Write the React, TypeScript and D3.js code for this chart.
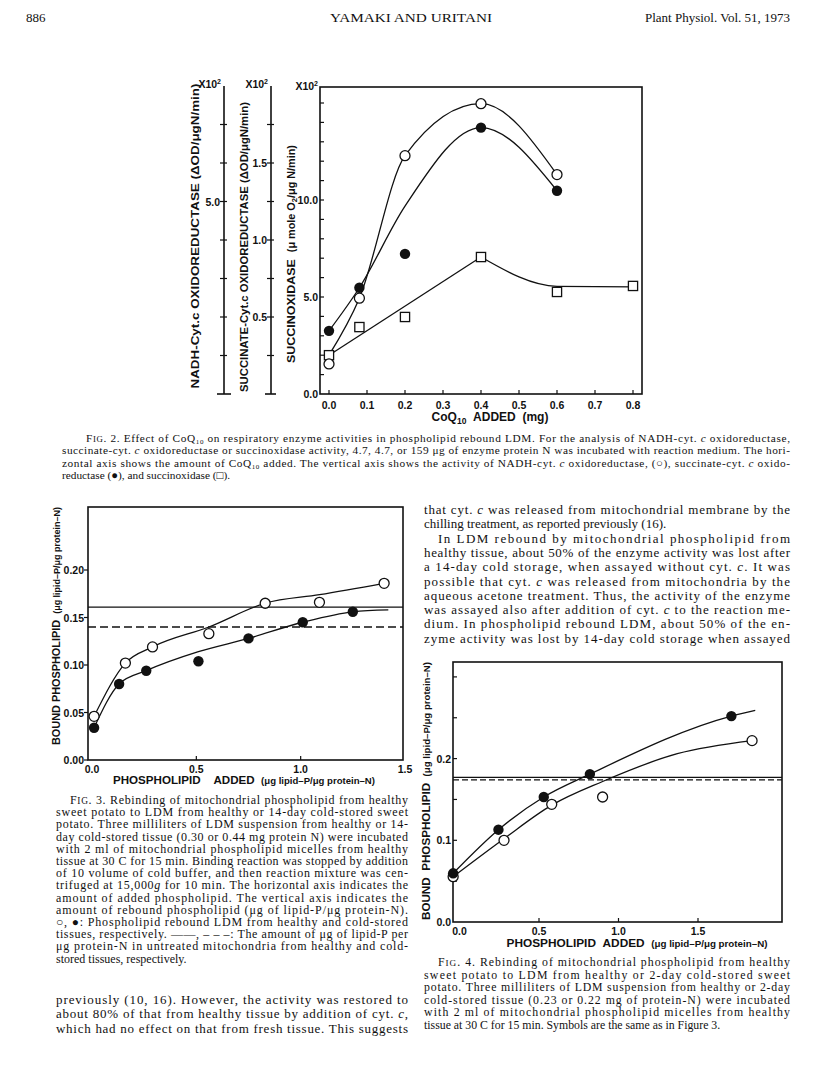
import React from "react";
import * as d3 from "d3";

// ---------------- Fig. 2 data (x = CoQ10 added, mg) ----------------
const fig2XTicks = [0, 0.1, 0.2, 0.3, 0.4, 0.5, 0.6, 0.7, 0.8];
const nadhX = [0, 0.08, 0.2, 0.4, 0.6]; // open circles, NADH-cyt c oxidoreductase (x10^2)
const nadhY = [0.78, 2.49, 6.19, 7.54, 5.7];
const succCytX = [0, 0.08, 0.2, 0.4, 0.6]; // filled circles, succinate-cyt c oxidoreductase (x10^2)
const succCytY = [0.41, 0.69, 0.91, 1.73, 1.32];
const succOxX = [0, 0.08, 0.2, 0.4, 0.6, 0.8]; // squares, succinoxidase (x10^2)
const succOxY = [2.0, 3.45, 3.97, 7.06, 5.26, 5.57];
// hand-drawn fitted curves
const nadhFitX = [0, 0.08, 0.2, 0.4, 0.6];
const nadhFitY = [1.01, 2.49, 6.19, 7.54, 5.7];
const succCytFitX = [0, 0.08, 0.2, 0.4, 0.6];
const succCytFitY = [0.41, 0.69, 1.22, 1.73, 1.32];
const succOxLineX = [0, 0.4]; // straight part of the succinoxidase line
const succOxLineY = [2.0, 7.06];
const succOxFitX = [0.4, 0.6, 0.8]; // smooth part
const succOxFitY = [7.06, 5.55, 5.52];
const nadhTicks = [1, 2, 3, 4, 5, 6, 7];
const nadhLabels = [5];
const succCytTicks = [0.25, 0.5, 0.75, 1.0, 1.25, 1.5, 1.75];
const succCytLabels = [0.5, 1.0, 1.5];
const succOxTicks = [1, 2, 3, 4, 5, 6, 7, 8, 9, 10, 11, 12, 13, 14, 15];
const succOxLabels = [0, 5, 10];

// ---------------- Fig. 3 data ----------------
const f3HealthyX = [0.01, 0.16, 0.29, 0.56, 0.83, 1.09, 1.4];
const f3HealthyY = [0.046, 0.102, 0.119, 0.133, 0.165, 0.166, 0.186];
const f3ColdX = [0.01, 0.13, 0.26, 0.51, 0.75, 1.01, 1.25];
const f3ColdY = [0.034, 0.08, 0.094, 0.104, 0.128, 0.145, 0.156];
const f3HealthyFitX = [0.01, 0.16, 0.29, 0.56, 0.83, 1.09, 1.4];
const f3HealthyFitY = [0.046, 0.102, 0.119, 0.14, 0.165, 0.174, 0.186];
const f3ColdFitX = [0.01, 0.13, 0.26, 0.51, 0.75, 1.01, 1.25, 1.42];
const f3ColdFitY = [0.034, 0.08, 0.094, 0.114, 0.128, 0.145, 0.156, 0.158];
const f3HealthyRef = 0.161;
const f3ColdRef = 0.14;
const f3YTicks = [0, 0.05, 0.1, 0.15, 0.2];
const f3XTicks = [0, 0.5, 1.0, 1.5];

// ---------------- Fig. 4 data ----------------
const f4HealthyX = [-0.04, 0.28, 0.58, 0.9, 1.84];
const f4HealthyY = [0.0555, 0.1, 0.144, 0.153, 0.222];
const f4ColdX = [-0.04, 0.245, 0.53, 0.82, 1.71];
const f4ColdY = [0.0596, 0.113, 0.153, 0.181, 0.252];
const f4HealthyFitX = [-0.04, 0.28, 0.58, 0.9, 1.37, 1.84];
const f4HealthyFitY = [0.0555, 0.102, 0.143, 0.172, 0.206, 0.222];
const f4ColdFitX = [-0.04, 0.245, 0.53, 0.82, 1.71, 1.86];
const f4ColdFitY = [0.0596, 0.113, 0.153, 0.181, 0.252, 0.259];
const f4HealthyRef = 0.177;
const f4ColdRef = 0.174;
const f4YTicks = [0.05, 0.1, 0.15, 0.2, 0.25, 0.3];
const f4YLabels = [0, 0.1, 0.2];
const f4XTicks = [0, 0.5, 1.0, 1.5];

// ---------------- Page text ----------------
const headerLeft = "886";
const headerCenter = "YAMAKI AND URITANI";
const headerRight = "Plant Physiol. Vol. 51, 1973";

const fig2Caption = [
  "F{IG}. 2. Effect of CoQ~10~ on respiratory enzyme activities in phospholipid rebound LDM. For the analysis of NADH-cyt. _c_ oxidoreductase,",
  "succinate-cyt. _c_ oxidoreductase or succinoxidase activity, 4.7, 4.7, or 159 μg of enzyme protein N was incubated with reaction medium. The hori-",
  "zontal axis shows the amount of CoQ~10~ added. The vertical axis shows the activity of NADH-cyt. _c_ oxidoreductase, (○), succinate-cyt. _c_ oxido-",
  "reductase (●), and succinoxidase (□).",
];
const fig3Caption = [
  "F{IG}. 3. Rebinding of mitochondrial phospholipid from healthy",
  "sweet potato to LDM from healthy or 14-day cold-stored sweet",
  "potato. Three milliliters of LDM suspension from healthy or 14-",
  "day cold-stored tissue (0.30 or 0.44 mg protein N) were incubated",
  "with 2 ml of mitochondrial phospholipid micelles from healthy",
  "tissue at 30 C for 15 min. Binding reaction was stopped by addition",
  "of 10 volume of cold buffer, and then reaction mixture was cen-",
  "trifuged at 15,000_g_ for 10 min. The horizontal axis indicates the",
  "amount of added phospholipid. The vertical axis indicates the",
  "amount of rebound phospholipid (μg of lipid-P/μg protein-N).",
  "○, ●: Phospholipid rebound LDM from healthy and cold-stored",
  "tissues, respectively. ——, – – –: The amount of μg of lipid-P per",
  "μg protein-N in untreated mitochondria from healthy and cold-",
  "stored tissues, respectively.",
];
const fig4Caption = [
  "F{IG}. 4. Rebinding of mitochondrial phospholipid from healthy",
  "sweet potato to LDM from healthy or 2-day cold-stored sweet",
  "potato. Three milliliters of LDM suspension from healthy or 2-day",
  "cold-stored tissue (0.23 or 0.22 mg of protein-N) were incubated",
  "with 2 ml of mitochondrial phospholipid micelles from healthy",
  "tissue at 30 C for 15 min. Symbols are the same as in Figure 3.",
];
const leftBody = [
  "previously (10, 16). However, the activity was restored to",
  "about 80% of that from healthy tissue by addition of cyt. _c_,",
  "which had no effect on that from fresh tissue. This suggests",
];
const rightBody = [
  "that cyt. _c_ was released from mitochondrial membrane by the",
  "chilling treatment, as reported previously (16).",
  "In LDM rebound by mitochondrial phospholipid from",
  "healthy tissue, about 50% of the enzyme activity was lost after",
  "a 14-day cold storage, when assayed without cyt. _c_. It was",
  "possible that cyt. _c_ was released from mitochondria by the",
  "aqueous acetone treatment. Thus, the activity of the enzyme",
  "was assayed also after addition of cyt. _c_ to the reaction me-",
  "dium. In phospholipid rebound LDM, about 50% of the en-",
  "zyme activity was lost by 14-day cold storage when assayed",
];

// ---------------- helpers ----------------
const SERIF = "'Liberation Serif', 'Times New Roman', serif";
const SANS = "'Liberation Sans', Arial, sans-serif";
const INK = "#111";

type Seg = { t: string; kind: string };
function parse(s: string): Seg[] {
  const out: Seg[] = [];
  const re = /(\{[^}]*\}|_[^_]*_|~[^~]*~|\^[^^]*\^)/g;
  let last = 0;
  let m: RegExpExecArray | null;
  while ((m = re.exec(s))) {
    if (m.index > last) out.push({ t: s.slice(last, m.index), kind: "n" });
    const tok = m[0];
    const c = tok[0];
    out.push({ t: tok.slice(1, -1), kind: c === "{" ? "sc" : c === "_" ? "i" : c === "~" ? "sub" : "sup" });
    last = m.index + tok.length;
  }
  if (last < s.length) out.push({ t: s.slice(last), kind: "n" });
  return out;
}
function Rich({ s, fs }: { s: string; fs: number }) {
  const segs = parse(s);
  let shift = 0;
  return (
    <>
      {segs.map((g, i) => {
        let target = 0;
        if (g.kind === "sub") target = fs * 0.18;
        else if (g.kind === "sup") target = -fs * 0.4;
        const dy = target - shift;
        shift = target;
        return (
          <tspan
            key={i}
            dy={dy !== 0 ? dy : undefined}
            fontStyle={g.kind === "i" ? "italic" : undefined}
            fontSize={g.kind === "sc" ? fs * 0.78 : g.kind === "sub" || g.kind === "sup" ? fs * 0.62 : undefined}
          >
            {g.t}
          </tspan>
        );
      })}
    </>
  );
}

function Para({
  lines, x, y, w, lead, fs, indent = [], noJustify = [], ind = 14,
}: {
  lines: string[]; x: number; y: number; w: number; lead: number; fs: number;
  indent?: number[]; noJustify?: number[]; ind?: number;
}) {
  return (
    <g fontFamily={SERIF} fontSize={fs} fill={INK}>
      {lines.map((l, i) => {
        const dx = indent.includes(i) ? ind : 0;
        const just = !noJustify.includes(i);
        return (
          <text key={i} x={x + dx} y={y + i * lead} textLength={just ? w - dx : undefined} lengthAdjust="spacing">
            <Rich s={l} fs={fs} />
          </text>
        );
      })}
    </g>
  );
}

function Markers({ xs, ys, sx, sy, kind }: { xs: number[]; ys: number[]; sx: any; sy: any; kind: string }) {
  return (
    <g>
      {xs.map((v, i) => {
        const cx = sx(v);
        const cy = sy(ys[i]);
        if (kind === "square")
          return <rect key={i} x={cx - 4.6} y={cy - 4.6} width={9.2} height={9.2} fill="#fff" stroke={INK} strokeWidth={1.3} />;
        if (kind === "filled") return <circle key={i} cx={cx} cy={cy} r={5.2} fill={INK} />;
        return <circle key={i} cx={cx} cy={cy} r={5} fill="#fff" stroke={INK} strokeWidth={1.3} />;
      })}
    </g>
  );
}

function Curve({ xs, ys, sx, sy, linear = false }: { xs: number[]; ys: number[]; sx: any; sy: any; linear?: boolean }) {
  const line = d3
    .line<number>()
    .x((d) => sx(xs[d]))
    .y((d) => sy(ys[d]))
    .curve(linear ? d3.curveLinear : d3.curveMonotoneX);
  return <path d={line(d3.range(xs.length)) || ""} fill="none" stroke={INK} strokeWidth={1.3} />;
}

const fmt1 = d3.format(".1f");
const fmt2 = d3.format(".2f");

export default function App() {
  // ---- Fig 2 scales ----
  const x2 = d3.scaleLinear().domain([0, 0.8]).range([329, 633]);
  const box2 = { l: 320, r: 642, t: 87, b: 394 };
  const yOx = d3.scaleLinear().domain([0, 10]).range([394, 200]);
  const yCyt = d3.scaleLinear().domain([0, 2]).range([394, 86]);
  const yNadh = d3.scaleLinear().domain([0, 8]).range([394, 86]);
  const axN = 224;
  const axC = 271;

  // ---- Fig 3 scales ----
  const x3 = d3.scaleLinear().domain([0, 1.5]).range([92, 405]);
  const y3 = d3.scaleLinear().domain([0, 0.2]).range([760, 570]);
  const box3 = { l: 88, r: 403, t: 507, b: 760 };

  // ---- Fig 4 scales ----
  const x4 = d3.scaleLinear().domain([0, 1.5]).range([459.5, 698]);
  const y4 = d3.scaleLinear().domain([0, 0.2]).range([922, 758.6]);
  const box4 = { l: 453, r: 782, t: 662, b: 922 };

  const tickFs = 10.5;

  return (
    <svg
      width={816}
      height={1089}
      viewBox="0 0 816 1089"
      style={{ position: "absolute", left: 0, top: 0, background: "#fff" }}
    >
      <rect x={0} y={0} width={816} height={1089} fill="#fff" />

      {/* Header */}
      <g fontFamily={SERIF} fontSize={13} fill={INK}>
        <text x={26} y={22}>{headerLeft}</text>
        <text x={411} y={22} textAnchor="middle" textLength={162} lengthAdjust="spacingAndGlyphs">{headerCenter}</text>
        <text x={790} y={22} textAnchor="end">{headerRight}</text>
      </g>

      {/* ================= Fig. 2 ================= */}
      <g stroke={INK} fill="none">
        <rect x={box2.l} y={box2.t} width={box2.r - box2.l} height={box2.b - box2.t} strokeWidth={1.6} />
        {fig2XTicks.map((v) => (
          <line key={v} x1={x2(v)} x2={x2(v)} y1={box2.b} y2={box2.b - 4} strokeWidth={1.2} />
        ))}
        {succOxTicks.map((v) => (
          <line key={v} x1={box2.l} x2={box2.l + 4} y1={yOx(v)} y2={yOx(v)} strokeWidth={1.2} />
        ))}
        {/* NADH free axis */}
        <line x1={axN} x2={axN} y1={yNadh(8)} y2={yNadh(0)} strokeWidth={1.6} />
        <line x1={axN - 7} x2={axN + 7} y1={yNadh(0)} y2={yNadh(0)} strokeWidth={1.6} />
        {nadhTicks.map((v) => (
          <line key={v} x1={axN - 4} x2={axN + 3} y1={yNadh(v)} y2={yNadh(v)} strokeWidth={1.2} />
        ))}
        {/* Succinate-cyt c free axis */}
        <line x1={axC} x2={axC} y1={yCyt(2)} y2={yCyt(0)} strokeWidth={1.6} />
        <line x1={axC - 6} x2={axC + 5} y1={yCyt(0)} y2={yCyt(0)} strokeWidth={1.6} />
        {succCytTicks.map((v) => (
          <line key={v} x1={axC - 4} x2={axC + 3} y1={yCyt(v)} y2={yCyt(v)} strokeWidth={1.2} />
        ))}
      </g>
      <g fontFamily={SANS} fontWeight="bold" fontSize={tickFs} fill={INK}>
        {fig2XTicks.map((v) => (
          <text key={v} x={x2(v)} y={409} textAnchor="middle">{fmt1(v)}</text>
        ))}
        {succOxLabels.map((v) => (
          <text key={v} x={box2.l - 2} y={yOx(v) + 4} textAnchor="end">{fmt1(v)}</text>
        ))}
        {nadhLabels.map((v) => (
          <text key={v} x={axN - 4} y={yNadh(v) + 4} textAnchor="end">{fmt1(v)}</text>
        ))}
        {succCytLabels.map((v) => (
          <text key={v} x={axC - 4} y={yCyt(v) + 4} textAnchor="end">{fmt1(v)}</text>
        ))}
        <text x={axN - 3} y={88} textAnchor="end">X10<tspan dy={-4} fontSize={7}>2</tspan></text>
        <text x={axC - 3} y={88} textAnchor="end">X10<tspan dy={-4} fontSize={7}>2</tspan></text>
        <text x={box2.l - 2} y={90} textAnchor="end">X10<tspan dy={-4} fontSize={7}>2</tspan></text>
        <text x={490} y={421} textAnchor="middle" fontSize={12}>
          CoQ<tspan dy={3} fontSize={8.5}>10</tspan><tspan dy={-3}>{"\u00a0\u00a0ADDED\u00a0\u00a0(mg)"}</tspan>
        </text>
        <text transform={`translate(199,236) rotate(-90)`} textAnchor="middle" fontSize={11.5} textLength={305} lengthAdjust="spacingAndGlyphs">
          NADH-Cyt.c OXIDOREDUCTASE (ΔOD/μgN/min)
        </text>
        <text transform={`translate(248,247) rotate(-90)`} textAnchor="middle" fontSize={11.5} textLength={290} lengthAdjust="spacingAndGlyphs">
          SUCCINATE-Cyt.c OXIDOREDUCTASE (ΔOD/μgN/min)
        </text>
        <text transform={`translate(295,254) rotate(-90)`} textAnchor="middle" fontSize={11.5} textLength={218} lengthAdjust="spacingAndGlyphs">
          SUCCINOXIDASE{"\u00a0\u00a0"}<tspan fontSize={10}>(μ mole O</tspan><tspan fontSize={7} dy={2}>2</tspan><tspan fontSize={10} dy={-2}>/μg N/min)</tspan>
        </text>
      </g>
      <Curve xs={nadhFitX} ys={nadhFitY} sx={x2} sy={yNadh} />
      <Curve xs={succCytFitX} ys={succCytFitY} sx={x2} sy={yCyt} />
      <Curve xs={succOxLineX} ys={succOxLineY} sx={x2} sy={yOx} linear />
      <Curve xs={succOxFitX} ys={succOxFitY} sx={x2} sy={yOx} />
      <Markers xs={succOxX} ys={succOxY} sx={x2} sy={yOx} kind="square" />
      <Markers xs={nadhX} ys={nadhY} sx={x2} sy={yNadh} kind="open" />
      <Markers xs={succCytX} ys={succCytY} sx={x2} sy={yCyt} kind="filled" />

      <Para lines={fig2Caption} x={62} y={442} w={728} lead={12.4} fs={11.3} indent={[0]} noJustify={[3]} ind={24} />

      {/* ================= Fig. 3 ================= */}
      <g stroke={INK} fill="none">
        <rect x={box3.l} y={box3.t} width={box3.r - box3.l} height={box3.b - box3.t} strokeWidth={1.6} />
        {f3YTicks.map((v) => (
          <line key={v} x1={box3.l - 4} x2={box3.l} y1={y3(v)} y2={y3(v)} strokeWidth={1.2} />
        ))}
        {f3XTicks.filter((v) => v > 0 && v < 1.5).map((v) => (
          <line key={v} x1={x3(v)} x2={x3(v)} y1={box3.b} y2={box3.b - 4} strokeWidth={1.2} />
        ))}
        <line x1={box3.l} x2={box3.r} y1={y3(f3HealthyRef)} y2={y3(f3HealthyRef)} strokeWidth={1.3} />
        <line x1={box3.l} x2={box3.r} y1={y3(f3ColdRef)} y2={y3(f3ColdRef)} strokeWidth={1.3} strokeDasharray="8 4" />
      </g>
      <g fontFamily={SANS} fontWeight="bold" fontSize={tickFs} fill={INK}>
        {f3YTicks.map((v) => (
          <text key={v} x={box3.l - 4} y={y3(v) + 4} textAnchor="end">{fmt2(v)}</text>
        ))}
        {f3XTicks.map((v) => (
          <text key={v} x={x3(v)} y={773} textAnchor="middle">{fmt1(v)}</text>
        ))}
        <text x={244} y={784} textAnchor="middle" fontSize={11.5} textLength={262} lengthAdjust="spacingAndGlyphs">
          PHOSPHOLIPID{"\u00a0\u00a0\u00a0\u00a0"}ADDED{"\u00a0\u00a0"}<tspan fontSize={9.5}>(μg lipid–P/μg protein–N)</tspan>
        </text>
        <text transform={`translate(60,626) rotate(-90)`} textAnchor="middle" fontSize={11.5} textLength={238} lengthAdjust="spacingAndGlyphs">
          BOUND PHOSPHOLIPID{"\u00a0\u00a0"}<tspan fontSize={9.5}>(μg lipid–P/μg protein–N)</tspan>
        </text>
      </g>
      <Curve xs={f3HealthyFitX} ys={f3HealthyFitY} sx={x3} sy={y3} />
      <Curve xs={f3ColdFitX} ys={f3ColdFitY} sx={x3} sy={y3} />
      <Markers xs={f3HealthyX} ys={f3HealthyY} sx={x3} sy={y3} kind="open" />
      <Markers xs={f3ColdX} ys={f3ColdY} sx={x3} sy={y3} kind="filled" />

      <Para lines={fig3Caption} x={56} y={804} w={352} lead={12.2} fs={12} indent={[0]} noJustify={[13]} ind={14} />
      <Para lines={leftBody} x={56} y={1004} w={352} lead={14.4} fs={13} />

      {/* ================= Right column text ================= */}
      <Para lines={rightBody} x={424} y={514} w={366} lead={14.3} fs={13} indent={[2]} noJustify={[1]} ind={14} />

      {/* ================= Fig. 4 ================= */}
      <g stroke={INK} fill="none">
        <rect x={box4.l} y={box4.t} width={box4.r - box4.l} height={box4.b - box4.t} strokeWidth={1.6} />
        {f4YTicks.map((v) => (
          <line key={v} x1={box4.l} x2={box4.l + 4} y1={y4(v)} y2={y4(v)} strokeWidth={1.2} />
        ))}
        {f4XTicks.filter((v) => v > 0).map((v) => (
          <line key={v} x1={x4(v)} x2={x4(v)} y1={box4.b} y2={box4.b - 4} strokeWidth={1.2} />
        ))}
        <line x1={box4.l} x2={box4.r} y1={y4(f4HealthyRef)} y2={y4(f4HealthyRef)} strokeWidth={1.3} />
        <line x1={box4.l} x2={box4.r} y1={y4(f4ColdRef)} y2={y4(f4ColdRef)} strokeWidth={1.3} strokeDasharray="6 3" />
      </g>
      <g fontFamily={SANS} fontWeight="bold" fontSize={tickFs} fill={INK}>
        {f4YLabels.map((v) => (
          <text key={v} x={box4.l - 2} y={y4(v) + 4} textAnchor="end">{fmt1(v)}</text>
        ))}
        {f4XTicks.map((v) => (
          <text key={v} x={x4(v)} y={935} textAnchor="middle">{fmt1(v)}</text>
        ))}
        <text x={637} y={947} textAnchor="middle" fontSize={11.5} textLength={261} lengthAdjust="spacingAndGlyphs">
          PHOSPHOLIPID{"\u00a0\u00a0"}ADDED{"\u00a0\u00a0"}<tspan fontSize={9.5}>(μg lipid–P/μg protein–N)</tspan>
        </text>
        <text transform={`translate(430,791) rotate(-90)`} textAnchor="middle" fontSize={11.5} textLength={258} lengthAdjust="spacingAndGlyphs">
          BOUND{"\u00a0\u00a0"}PHOSPHOLIPID{"\u00a0\u00a0"}<tspan fontSize={9.5}>(μg lipid–P/μg protein–N)</tspan>
        </text>
      </g>
      <Curve xs={f4HealthyFitX} ys={f4HealthyFitY} sx={x4} sy={y4} />
      <Curve xs={f4ColdFitX} ys={f4ColdFitY} sx={x4} sy={y4} />
      <Markers xs={f4HealthyX} ys={f4HealthyY} sx={x4} sy={y4} kind="open" />
      <Markers xs={f4ColdX} ys={f4ColdY} sx={x4} sy={y4} kind="filled" />

      <Para lines={fig4Caption} x={424} y={966} w={366} lead={12.6} fs={11.8} indent={[0]} noJustify={[5]} ind={14} />
    </svg>
  );
}
